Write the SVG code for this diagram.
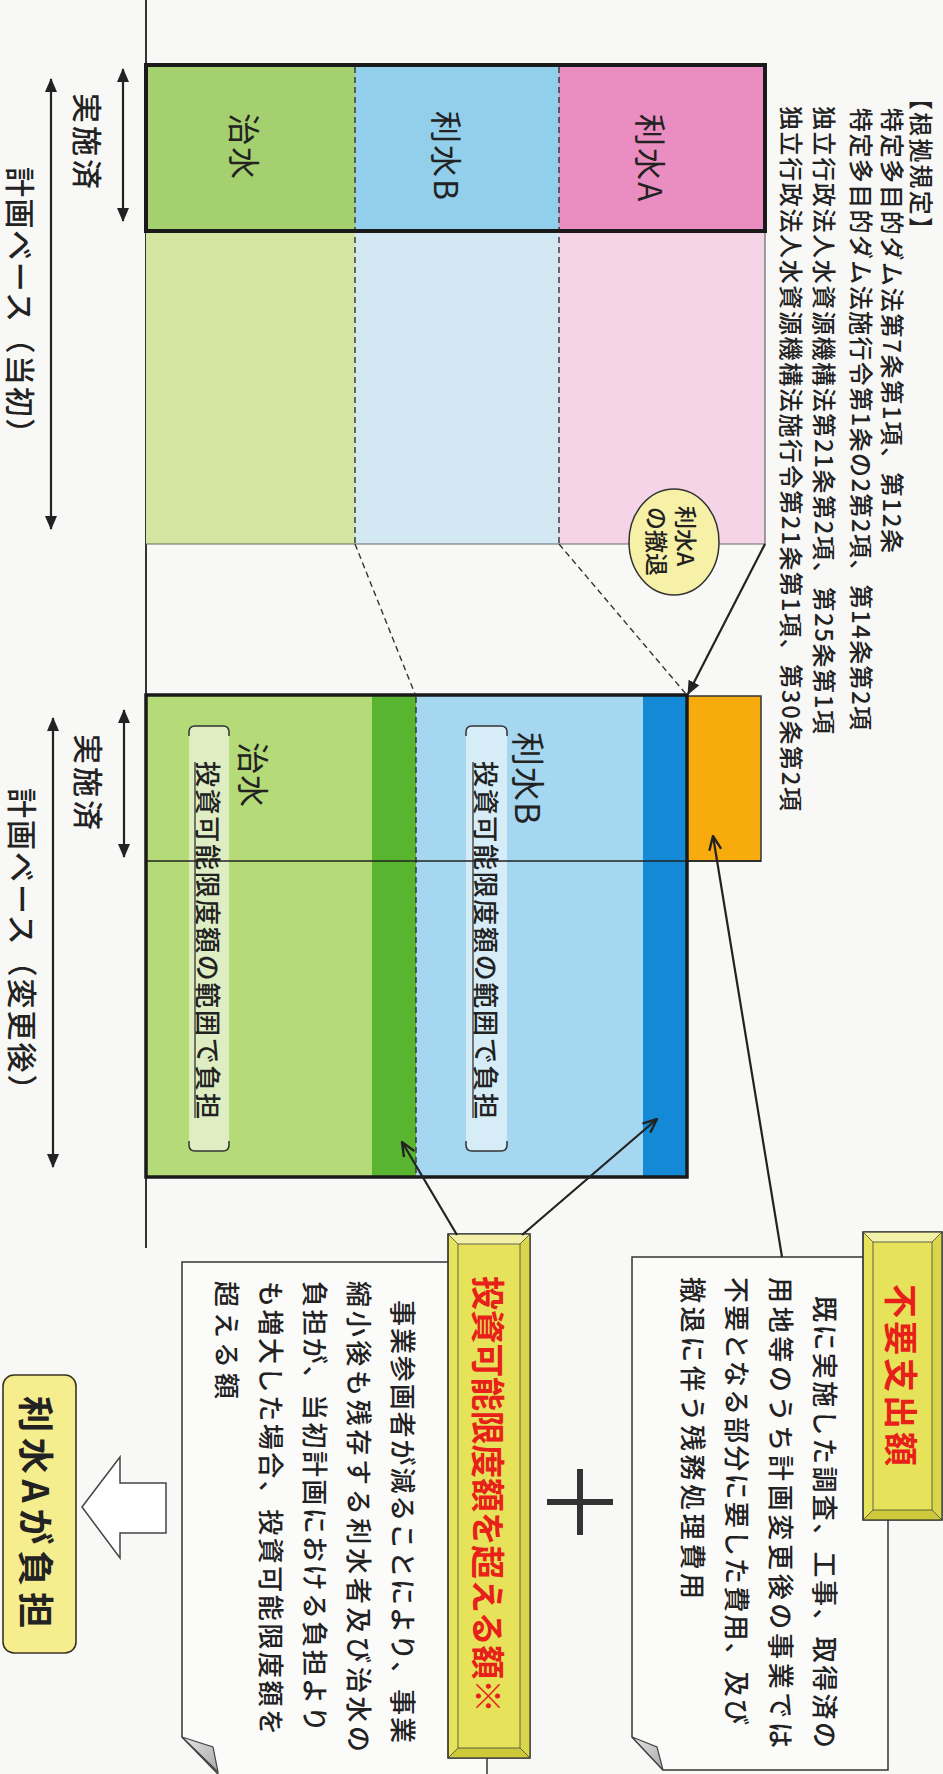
<svg xmlns="http://www.w3.org/2000/svg" width="943" height="1774" viewBox="0 0 943 1774">
<style>
text{font-family:"Noto Sans CJK JP","Noto Sans",sans-serif;fill:#222;dominant-baseline:central}
.lbl{font-size:32px}
.dim{font-size:30px;font-weight:500}
.law{font-size:24px;font-weight:500}
.body{font-size:26px;font-weight:500}
.pill{font-size:26px;font-weight:500}
.red{font-size:34px;font-weight:bold;fill:#e8201a}
.thin{fill:none;stroke:#333;stroke-width:1.5}
.dash{fill:none;stroke:#333;stroke-width:1.4;stroke-dasharray:6 4}
.conn{fill:none;stroke:#222;stroke-width:2.2}
.bevelline{fill:none;stroke:#444;stroke-width:0.8}
</style>
<defs>
<marker id="ah" viewBox="0 0 14 12" refX="13" refY="6" markerWidth="14" markerHeight="12" markerUnits="userSpaceOnUse" orient="auto-start-reverse">
<path d="M0,0 L14,6 L0,12 z" fill="#222"/>
</marker>
<marker id="av" viewBox="0 0 16 14" refX="15" refY="7" markerWidth="16" markerHeight="14" markerUnits="userSpaceOnUse" orient="auto">
<path d="M1,1 L15,7 L1,13" fill="none" stroke="#222" stroke-width="2.4" stroke-linejoin="miter"/>
</marker>
<linearGradient id="fold" x1="0" y1="0" x2="1" y2="1">
<stop offset="0" stop-color="#e6e6e6"/><stop offset="1" stop-color="#a9a9a9"/>
</linearGradient>
</defs>
<rect width="943" height="1774" fill="#f8f8f6"/>

<!-- axis -->
<line x1="146" y1="0" x2="146" y2="1248" stroke="#333" stroke-width="2"/>

<!-- dimension arrows and labels -->
<g id="dims">
<line x1="123" y1="69" x2="123" y2="221" class="conn" marker-start="url(#ah)" marker-end="url(#ah)"/>
<line x1="51" y1="79" x2="51" y2="529" class="conn" marker-start="url(#ah)" marker-end="url(#ah)"/>
<text class="dim" letter-spacing="3" transform="translate(89,93) rotate(90)">実施済</text>
<text class="dim" letter-spacing="1.6" transform="translate(22,167) rotate(90)">計画ベース（当初）</text>
<line x1="124" y1="710" x2="124" y2="857" class="conn" marker-start="url(#ah)" marker-end="url(#ah)"/>
<line x1="53" y1="718" x2="53" y2="1167" class="conn" marker-start="url(#ah)" marker-end="url(#ah)"/>
<text class="dim" letter-spacing="3" transform="translate(90,734) rotate(90)">実施済</text>
<text class="dim" letter-spacing="2" transform="translate(24,788) rotate(90)">計画ベース（変更後）</text>
</g>

<!-- top (initial plan) -->
<g id="top-chisui">
<rect x="146" y="65" width="209" height="166" fill="#a5d06f"/>
<rect x="146" y="231" width="209" height="313" fill="#d3e6a1"/>
<text class="lbl" letter-spacing="2" transform="translate(246,113) rotate(90)">治水</text>
</g>
<g id="top-risuiB">
<rect x="355" y="65" width="204" height="166" fill="#92cfea"/>
<rect x="355" y="231" width="204" height="313" fill="#d2e9f3"/>
<text class="lbl" letter-spacing="2" transform="translate(448,111) rotate(90)">利水B</text>
</g>
<g id="top-risuiA">
<rect x="559" y="65" width="206" height="166" fill="#ea8dc0"/>
<rect x="559" y="231" width="206" height="313" fill="#f6d4e7"/>
<text class="lbl" letter-spacing="2" transform="translate(652,114) rotate(90)">利水A</text>
</g>
<path d="M765,231 V544 H146" fill="none" stroke="#666" stroke-width="1.2"/>
<line x1="355" y1="67" x2="355" y2="544" class="dash"/>
<line x1="559" y1="67" x2="559" y2="544" class="dash"/>
<rect x="146" y="65" width="619" height="166" fill="none" stroke="#1a1a1a" stroke-width="4"/>

<!-- legal basis -->
<g id="law">
<text class="law" letter-spacing="2.2" transform="translate(922,86) rotate(90)">【根拠規定】</text>
<text class="law" textLength="445" lengthAdjust="spacing" transform="translate(893,108) rotate(90)">特定多目的ダム法第7条第1項、第12条</text>
<text class="law" textLength="622" lengthAdjust="spacing" transform="translate(862,108) rotate(90)">特定多目的ダム法施行令第1条の2第2項、第14条第2項</text>
<text class="law" textLength="628" lengthAdjust="spacing" transform="translate(825,106) rotate(90)">独立行政法人水資源機構法第21条第2項、第25条第1項</text>
<text class="law" textLength="705" lengthAdjust="spacing" transform="translate(792,106) rotate(90)">独立行政法人水資源機構法施行令第21条第1項、第30条第2項</text>
</g>

<!-- withdrawal ellipse -->
<g id="withdraw">
<ellipse cx="674" cy="542" rx="45" ry="53" fill="#f6f1a6" stroke="#333" stroke-width="1.5"/>
<text font-size="23" font-weight="500" transform="translate(687,506) rotate(90)">利水A</text>
<text font-size="23" font-weight="500" transform="translate(658,507) rotate(90)">の撤退</text>
</g>

<!-- bottom (changed plan) -->
<g id="bot-chisui">
<rect x="146" y="695" width="226" height="482" fill="#b5da78"/>
<rect x="372" y="695" width="44" height="482" fill="#59b52f"/>
<rect x="189" y="726" width="40" height="425" rx="8" fill="#ffffff" fill-opacity="0.55"/>
<path d="M189,736 v-4 q0,-6 6,-6 h28 q6,0 6,6 v4 M189,1141 v4 q0,6 6,6 h28 q6,0 6,-6 v-4" class="thin"/>
<text class="pill" textLength="358" lengthAdjust="spacing" transform="translate(209,761) rotate(90)">投資可能限度額の範囲で負担</text>
<line x1="195" y1="762" x2="195" y2="1118" stroke="#333" stroke-width="1.3"/>
<text class="lbl" letter-spacing="1" transform="translate(255,742) rotate(90)">治水</text>
</g>
<g id="bot-risuiB">
<rect x="416" y="695" width="227" height="482" fill="#a5d7f0"/>
<rect x="643" y="695" width="44" height="482" fill="#148ad6"/>
<rect x="466" y="726" width="41" height="425" rx="8" fill="#ffffff" fill-opacity="0.55"/>
<path d="M466,736 v-4 q0,-6 6,-6 h29 q6,0 6,6 v4 M466,1141 v4 q0,6 6,6 h29 q6,0 6,-6 v-4" class="thin"/>
<text class="pill" textLength="358" lengthAdjust="spacing" transform="translate(487,761) rotate(90)">投資可能限度額の範囲で負担</text>
<line x1="473" y1="762" x2="473" y2="1118" stroke="#333" stroke-width="1.3"/>
<text font-size="34" letter-spacing="1" transform="translate(529,732) rotate(90)">利水B</text>
</g>
<g id="bot-orange">
<rect x="687" y="696" width="74" height="165" fill="#f8ab0c" stroke="#333" stroke-width="1.5"/>
</g>
<line x1="416" y1="697" x2="416" y2="1177" class="dash"/>
<line x1="146" y1="861" x2="761" y2="861" stroke="#222" stroke-width="1.6"/>
<rect x="146" y="695" width="541" height="482" fill="none" stroke="#1a1a1a" stroke-width="3.5"/>

<!-- note boxes -->
<g id="note-right">
<path d="M663,1770 L632,1737 V1257 H888 V1770 Z" fill="#fbfbfa" stroke="#333" stroke-width="1.5"/>
<path d="M632,1737 L657,1747 L663,1770 Z" fill="url(#fold)" stroke="#444" stroke-width="1.2"/>
<text class="body" textLength="452" lengthAdjust="spacing" transform="translate(826,1296) rotate(90)">既に実施した調査、工事、取得済の</text>
<text class="body" textLength="471" lengthAdjust="spacing" transform="translate(782,1277) rotate(90)">用地等のうち計画変更後の事業では</text>
<text class="body" textLength="448" lengthAdjust="spacing" transform="translate(738,1277) rotate(90)">不要となる部分に要した費用、及び</text>
<text class="body" textLength="322" lengthAdjust="spacing" transform="translate(694,1277) rotate(90)">撤退に伴う残務処理費用</text>
</g>
<g id="note-left">
<path d="M218,1774 L182,1737 V1262 H487 V1774" fill="#fbfbfa" stroke="#333" stroke-width="1.5"/>
<path d="M182,1737 L213,1747 L218,1772 Z" fill="url(#fold)" stroke="#444" stroke-width="1.2"/>
<text class="body" textLength="443" lengthAdjust="spacing" transform="translate(404,1300) rotate(90)">事業参画者が減ることにより、事業</text>
<text class="body" textLength="471" lengthAdjust="spacing" transform="translate(360,1281) rotate(90)">縮小後も残存する利水者及び治水の</text>
<text class="body" textLength="451" lengthAdjust="spacing" transform="translate(316,1281) rotate(90)">負担が、当初計画における負担より</text>
<text class="body" textLength="454" lengthAdjust="spacing" transform="translate(272,1281) rotate(90)">も増大した場合、投資可能限度額を</text>
<text class="body" textLength="118" lengthAdjust="spacing" transform="translate(228,1281) rotate(90)">超える額</text>
</g>

<!-- yellow title boxes -->
<g id="title-fuyou">
<rect x="863" y="1232" width="79" height="288" fill="#e6e25a" stroke="#333" stroke-width="1.2"/>
<polygon points="863,1232 942,1232 932,1242 873,1242" fill="#f3f0a8"/>
<polygon points="863,1520 942,1520 932,1510 873,1510" fill="#cdc93a"/>
<polygon points="942,1232 932,1242 932,1510 942,1520" fill="#d9d54c"/>
<rect x="873" y="1242" width="59" height="268" fill="#f5f290" class="bevelline"/>
<path d="M863,1232 L873,1242 M942,1232 L932,1242 M863,1520 L873,1510 M942,1520 L932,1510" class="bevelline"/>
<rect x="863" y="1232" width="79" height="288" fill="none" stroke="#333" stroke-width="1.2"/>
<text class="red" textLength="182" lengthAdjust="spacing" transform="translate(902,1284) rotate(90)">不要支出額</text>
</g>
<g id="title-toushi">
<rect x="448" y="1234" width="82" height="524" fill="#e6e25a" stroke="#333" stroke-width="1.2"/>
<polygon points="448,1234 530,1234 520,1244 458,1244" fill="#f3f0a8"/>
<polygon points="448,1758 530,1758 520,1748 458,1748" fill="#cdc93a"/>
<polygon points="530,1234 520,1244 520,1748 530,1758" fill="#d9d54c"/>
<rect x="458" y="1244" width="62" height="504" fill="#f5f290" class="bevelline"/>
<path d="M448,1234 L458,1244 M530,1234 L520,1244 M448,1758 L458,1748 M530,1758 L520,1748" class="bevelline"/>
<rect x="448" y="1234" width="82" height="524" fill="none" stroke="#333" stroke-width="1.2"/>
<text class="red" font-size="33" textLength="437" lengthAdjust="spacing" transform="translate(489,1276) rotate(90)">投資可能限度額を超える額※</text>
</g>

<!-- plus sign -->
<g id="plus">
<rect x="547" y="1499" width="66" height="6" fill="#333"/>
<rect x="577" y="1469" width="6" height="66" fill="#333"/>
</g>

<!-- hollow arrow -->
<g id="result-arrow">
<polygon points="82,1507 120,1457 120,1483 166,1483 166,1533 120,1533 120,1558" fill="#ffffff" stroke="#444" stroke-width="1.5"/>
</g>

<!-- result box -->
<g id="result">
<rect x="3" y="1375" width="73" height="278" rx="11" fill="#f6ee8e" stroke="#3a3320" stroke-width="1.6"/>
<text font-size="36" font-weight="bold" textLength="232" lengthAdjust="spacing" transform="translate(38,1396) rotate(90)">利水Aが負担</text>
</g>

<!-- connectors -->
<g id="connectors">
<line x1="355" y1="544" x2="415" y2="694" class="dash"/>
<line x1="559" y1="544" x2="686" y2="694" class="dash"/>
<line x1="765" y1="544" x2="688" y2="694" class="conn" marker-end="url(#ah)"/>
<line x1="782" y1="1257" x2="713" y2="836" class="conn" marker-end="url(#av)"/>
<line x1="457" y1="1235" x2="402" y2="1142" class="conn" marker-end="url(#av)"/>
<line x1="522" y1="1235" x2="657" y2="1119" class="conn" marker-end="url(#av)"/>
</g>
</svg>
